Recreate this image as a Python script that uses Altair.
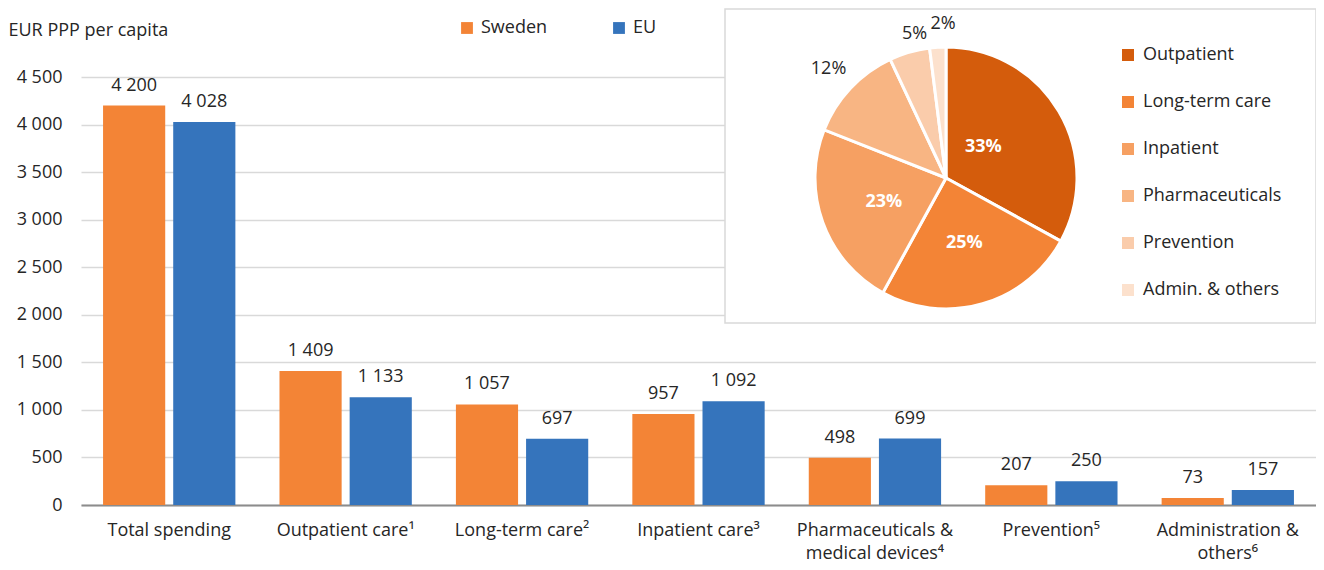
import altair as alt
import pandas as pd

# ---- data ----
categories = ["Total spending", "Outpatient care¹", "Long-term care²", "Inpatient care³",
              "Pharmaceuticals &|medical devices⁴", "Prevention⁵", "Administration &|others⁶"]
sweden = [4200, 1409, 1057, 957, 498, 207, 73]
eu = [4028, 1133, 697, 1092, 699, 250, 157]
countries = ["Sweden", "EU"]
bar_colors = ["#F38436", "#3574BC"]

pie_labels = ["Outpatient", "Long-term care", "Inpatient", "Pharmaceuticals", "Prevention", "Admin. & others"]
pie_shares = [33, 25, 23, 12, 5, 2]
pie_colors = ["#D45C0C", "#F38436", "#F6A062", "#F8B583", "#FACCAB", "#FCE1CD"]
pie_inside = [True, True, True, False, False, False]

rows = []
for c, s, e in zip(categories, sweden, eu):
    rows.append({"category": c, "country": "Sweden", "value": s})
    rows.append({"category": c, "country": "EU", "value": e})
bar_df = pd.DataFrame(rows)

pie_df = pd.DataFrame({"part": pie_labels, "share": pie_shares, "idx": list(range(len(pie_labels))),
                       "inside": pie_inside})

FONT = "Open Sans"
FS = 18
TXT = "#262626"
CX, CY, R = 865, 101, 131

x_enc = alt.X("category:N", sort=categories,
              scale=alt.Scale(paddingInner=0.25, paddingOuter=0.125),
              axis=alt.Axis(title=None, labelAngle=0, labelExpr="split(datum.label, '|')",
                            labelFontSize=FS, labelColor=TXT, labelPadding=16,
                            labelLineHeight=23, ticks=False, domainColor="#8C8C8C",
                            domainWidth=2, grid=False, labelBaseline="top"))
xo_enc = alt.XOffset("country:N", sort=countries, scale=alt.Scale(paddingInner=0.114))
y_enc = alt.Y("value:Q", scale=alt.Scale(domain=[0, 4500]),
              axis=alt.Axis(values=list(range(0, 4501, 500)),
                            labelExpr="replace(format(datum.value, ','), ',', ' ')",
                            labelFontSize=FS, labelColor=TXT, labelPadding=19,
                            ticks=False, domain=False, gridColor="#D9D9D9", gridWidth=1.3,
                            title="EUR PPP per capita", titleAngle=0, titleAlign="left",
                            titleBaseline="middle", titleX=-73, titleY=-47,
                            titleFontWeight="normal", titleFontSize=FS, titleColor=TXT))

bars = alt.Chart(bar_df).mark_bar().encode(
    x=x_enc, xOffset=xo_enc, y=y_enc,
    color=alt.Color("country:N", sort=countries,
                    scale=alt.Scale(domain=countries, range=bar_colors),
                    legend=alt.Legend(title=None, orient="none", legendX=377, legendY=-58,
                                      direction="horizontal", symbolType="square",
                                      symbolSize=140, symbolStrokeWidth=0, labelFontSize=FS,
                                      labelColor=TXT, columnPadding=62, labelOffset=5))
)

bar_labels = alt.Chart(bar_df).transform_calculate(
    lbl="replace(format(datum.value, ','), ',', ' ')"
).mark_text(baseline="bottom", dy=-11, fontSize=FS, color=TXT).encode(
    x=alt.X("category:N", sort=categories), xOffset=alt.XOffset("country:N", sort=countries),
    y="value:Q", text="lbl:N"
)

box = alt.Chart(pd.DataFrame({"a": [0]})).mark_rect(
    fill="white", stroke="#D9D9D9", strokeWidth=1.5
).encode(x=alt.value(644), x2=alt.value(1235), y=alt.value(-68), y2=alt.value(246))

theta_scale = alt.Scale(domain=[0, 100])

arcs = alt.Chart(pie_df).mark_arc(outerRadius=R, stroke="white", strokeWidth=3).encode(
    theta=alt.Theta("share:Q", stack=True, scale=theta_scale),
    order=alt.Order("idx:Q", sort="ascending"),
    x=alt.value(CX), y=alt.value(CY),
    color=alt.Color("part:N", sort=pie_labels,
                    scale=alt.Scale(domain=pie_labels, range=pie_colors),
                    legend=alt.Legend(title=None, orient="none", legendX=1038, legendY=-31,
                                      symbolType="square", symbolSize=144, symbolStrokeWidth=0,
                                      labelFontSize=FS, labelColor=TXT, rowPadding=29,
                                      labelOffset=6))
)

pie_text = alt.Chart(pie_df).transform_stack(
    stack="share", groupby=[], as_=["s0", "s1"], sort=[alt.SortField("idx", order="ascending")]
).transform_calculate(mid="(datum.s0 + datum.s1) / 2", lbl="datum.share + '%'")

theta_mid = alt.Theta("mid:Q", stack=None, scale=theta_scale)


def pie_label(filter_expr, radius, dx=0, dy=0, bold=False, color=TXT):
    return pie_text.transform_filter(filter_expr).mark_text(
        radius=radius, fontSize=FS, fontWeight="bold" if bold else "normal",
        color=color, dx=dx, dy=dy).encode(
        theta=theta_mid, x=alt.value(CX), y=alt.value(CY), text="lbl:N")


txt_33 = pie_label("datum.idx == 0", 62, dx=-16, dy=1, bold=True, color="white")
txt_in = pie_label("datum.inside && datum.idx != 0", 66, dy=2, bold=True, color="white")
txt_12 = pie_label("datum.idx == 3", 157, dx=-3, dy=-2)
txt_5 = pie_label("datum.idx == 4", 152, dx=11, dy=2)
txt_2 = pie_label("datum.idx == 5", 157, dx=7, dy=3)

chart = alt.layer(box, bars, bar_labels, arcs, txt_33, txt_in, txt_12, txt_5, txt_2).resolve_scale(
    color="independent"
).properties(
    width=1235, height=428,
    autosize=alt.AutoSizeParams(type="none"),
    padding={"left": 73, "top": 69, "right": 0, "bottom": 56},
).configure(font=FONT).configure_view(strokeWidth=0)

chart.save("out.html", embed_options={"renderer": "svg", "actions": False})
